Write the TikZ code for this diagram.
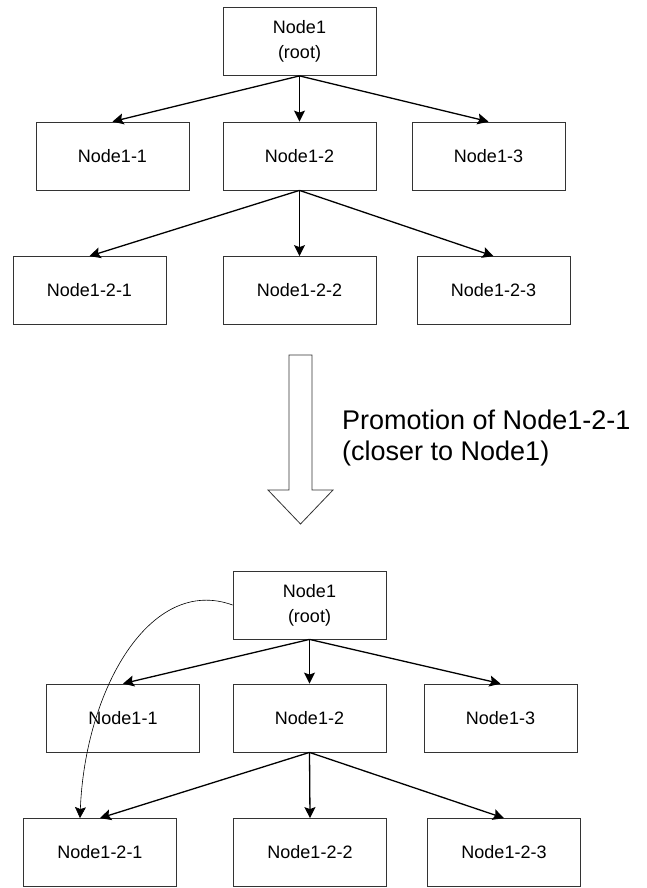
\documentclass[tikz,border=0pt]{standalone}
\usepackage{fontspec}
\setmainfont{Liberation Sans}
\usetikzlibrary{arrows.meta}

\begin{document}
\begin{tikzpicture}[x=1pt, y=-1pt,
  box/.style={draw=black!80, line width=0.8pt, minimum width=153pt,
    minimum height=68pt, inner sep=0pt, align=center,
    font=\fontsize{18}{25}\selectfont},
  tip/.style={-{Stealth[length=11pt, width=11pt, inset=2pt]}},
  link/.style={tip, line width=1.3pt},
  hop/.style={tip, line width=0.6pt},
  bigarrow/.style={draw=black!80, line width=0.8pt, fill=white},
  caption/.style={anchor=west, align=left, inner sep=0pt,
    font=\fontsize{27}{31}\selectfont}
]
  \useasboundingbox (0,0) rectangle (646,888);

  % tree before the promotion
  \node[box] (a1)   at (299.5, 41.5) {Node1\\(root)};
  \node[box] (a11)  at (112.5, 156)  {Node1-1};
  \node[box] (a12)  at (299.5, 156)  {Node1-2};
  \node[box] (a13)  at (488.5, 156)  {Node1-3};
  \node[box] (a121) at (89.5, 290.5) {Node1-2-1};
  \node[box] (a122) at (299.5, 290.5) {Node1-2-2};
  \node[box] (a123) at (493.5, 290.5) {Node1-2-3};

  \draw[link] (a1.south) -- (a11.north);
  \draw[link] (a1.south) -- (a12.north);
  \draw[link] (a1.south) -- (a13.north);
  \draw[link] (a12.south) -- (a121.north);
  \draw[link] (a12.south) -- (a122.north);
  \draw[link] (a12.south) -- (a123.north);

  % hollow arrow with its caption
  \draw[bigarrow] (289,355) -- (312,355) -- (312,490) -- (333,490)
    -- (300.5,524) -- (268,490) -- (289,490) -- cycle;
  \node[caption] (cap) at (342,438)
    {Promotion of Node1-2-1\\(closer to Node1)};

  % tree after the promotion
  \node[box] (b1)   at (309.5, 605)  {Node1\\(root)};
  \node[box] (b11)  at (123, 718)    {Node1-1};
  \node[box] (b12)  at (309.5, 718)  {Node1-2};
  \node[box] (b13)  at (500.5, 718)  {Node1-3};
  \node[box] (b121) at (100, 852.5)  {Node1-2-1};
  \node[box] (b122) at (310, 852.5)  {Node1-2-2};
  \node[box] (b123) at (504, 852.5)  {Node1-2-3};

  \draw[link] (b1.south) -- (b11.north);
  \draw[link] (b1.south) -- (b12.north);
  \draw[link] (b1.south) -- (b13.north);
  \draw[link] (b12.south) -- (b121.north);
  \draw[link] (b12.south) -- (b122.north);
  \draw[link] (b12.south) -- (b123.north);

  % promotion path from the root down to Node1-2-1
  \draw[hop] (b1.west) .. controls (150,575) and (85,690)
    .. ([xshift=-20pt]b121.north);
\end{tikzpicture}
\end{document}
